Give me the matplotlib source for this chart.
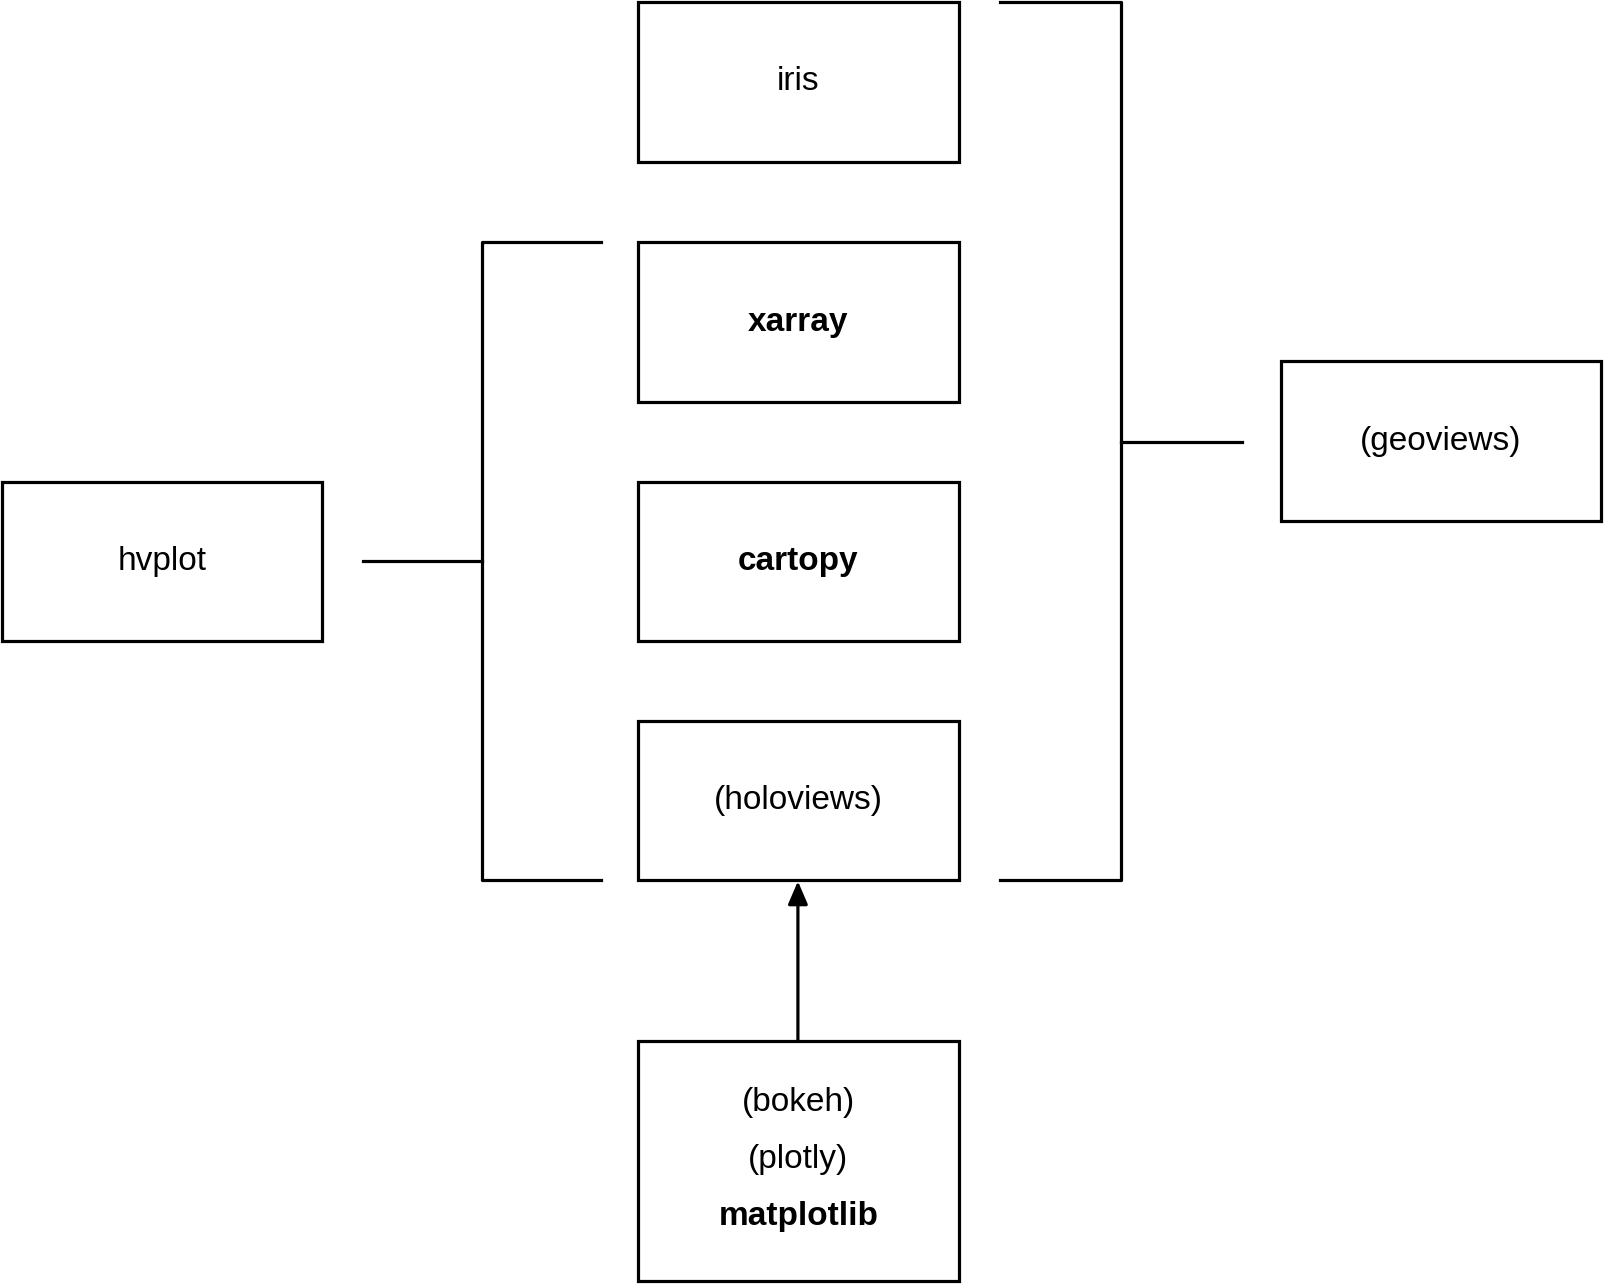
import matplotlib
matplotlib.use('Agg')
from matplotlib import pyplot as plt
from matplotlib.patches import Rectangle

# diagram coordinates in reference pixel space (1568 x 1256)
W, H = 1568, 1256

box_labels = ['iris', 'xarray', 'cartopy', '(holoviews)', '(bokeh)\n(plotly)\nmatplotlib', 'hvplot', '(geoviews)']
box_x = [624, 624, 624, 624, 624, 2, 1252]
box_y = [2, 237, 471, 705, 1018, 471, 353]
box_w = [313, 313, 313, 313, 313, 313, 313]
box_h = [156, 156, 156, 156, 235, 156, 157]
box_bold = [False, True, True, False, None, False, False]

left_bracket_x = [588, 471, 471, 588]
left_bracket_y = [237, 237, 861, 861]
right_bracket_x = [978, 1096, 1096, 978]
right_bracket_y = [2, 2, 861, 861]
stubs = [((355, 549), (471, 549)), ((1096, 432), (1214, 432))]


def main():
    plt.rcParams['font.family'] = ['Liberation Sans', 'DejaVu Sans']
    fig = plt.figure(figsize=(16.04, 12.84), dpi=100)
    ax = fig.add_axes([0, 0, 1, 1])
    ax.set_xlim(0, W)
    ax.set_ylim(H, 0)
    ax.axis('off')
    lw = 2.3
    fs = 24

    for lab, x, y, w, h, b in zip(box_labels, box_x, box_y, box_w, box_h, box_bold):
        ax.add_patch(Rectangle((x, y), w, h, fill=False, lw=lw, ec='black'))
        cx, cy = x + w / 2, y + h / 2
        if b is None:
            lines = lab.split('\n')
            for i, ln in enumerate(lines):
                ax.text(cx, y + 60 + i * 56, ln, ha='center', va='center', fontsize=fs,
                        fontweight='bold' if ln == 'matplotlib' else 'normal')
        else:
            ax.text(cx, cy, lab, ha='center', va='center', fontsize=fs,
                    fontweight='bold' if b else 'normal')

    ax.plot(left_bracket_x, left_bracket_y, color='black', lw=lw)
    ax.plot(right_bracket_x, right_bracket_y, color='black', lw=lw)
    for (x0, y0), (x1, y1) in stubs:
        ax.plot([x0, x1], [y0, y1], color='black', lw=lw)

    ax.annotate('', xy=(780, 862), xytext=(780, 1018),
                arrowprops=dict(arrowstyle='-|>,head_length=1.4,head_width=0.6',
                                lw=lw, color='black', shrinkA=0, shrinkB=0))

    plt.savefig('out.png', dpi=100)
    plt.close()


if __name__ == '__main__':
    main()
